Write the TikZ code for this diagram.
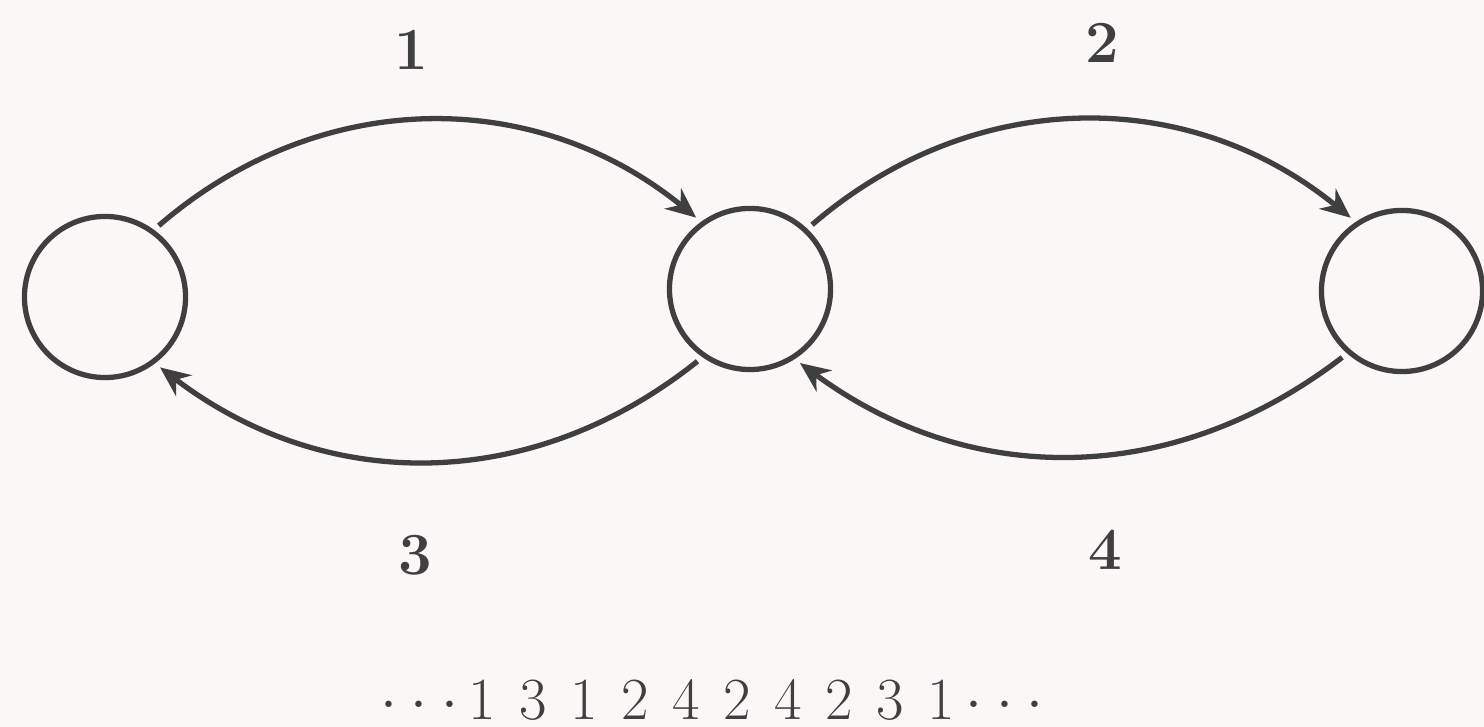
\documentclass[tikz,border=0pt]{standalone}
\usepackage{amsmath,amssymb}
\usepackage{xcolor}
\definecolor{clInk}{HTML}{3F3F3F}
\definecolor{clPaper}{HTML}{FAF7F6}
\usepackage{tikz}
\usetikzlibrary{arrows.meta,positioning}
\tikzset{
  vertex/.style={circle, draw=clInk, line width=1.5pt, minimum size=1.61cm,
                 inner sep=0pt, outer sep=2.5pt},
  flow/.style={-{Stealth[length=3mm, width=2.6mm]}, line width=1.5pt, draw=clInk},
  flowlabel/.style={font=\fontsize{17}{20}\selectfont\bfseries, text=clInk, inner sep=0pt},
  seqlabel/.style={font=\fontsize{17}{20}\selectfont, text=clInk,
                   inner sep=0pt, anchor=base},
}
\newcommand{\seqdots}{\ensuremath{\cdotp\mkern1mu\cdotp\mkern1mu\cdotp}}

\begin{document}
\begin{tikzpicture}[x=0.01cm, y=0.01cm]
  \fill[clPaper] (0,0) rectangle (1484,727);
  \useasboundingbox (0,0) rectangle (1484,727);
  % the three states
  \node[vertex] (sL) at (105,430) {};
  \node[vertex] (sM) at (750,438) {};
  \node[vertex] (sR) at (1402,436) {};
  % transitions
  \draw[flow] (sL.53) to[bend left=40] node[flowlabel, above=4.8mm, xshift=-1.5mm] {1} (sM.127);
  \draw[flow] (sM.46) to[bend left=40] node[flowlabel, above=5.4mm, xshift=2.2mm] {2} (sR.125);
  \draw[flow] (sM.234) to[bend left=38] node[flowlabel, below=7.1mm, xshift=-1.5mm] {3} (sL.308);
  \draw[flow] (sR.228) to[bend left=37] node[flowlabel, below=7.1mm, xshift=3.3mm] {4} (sM.304);
  % the visiting sequence
  \node[seqlabel] (seq) at (712,7) {\spaceskip=6.7pt\relax
    \seqdots\kern3pt 1 3 1 2 4 2 4 2 3 1\kern3pt\seqdots};
\end{tikzpicture}
\end{document}
